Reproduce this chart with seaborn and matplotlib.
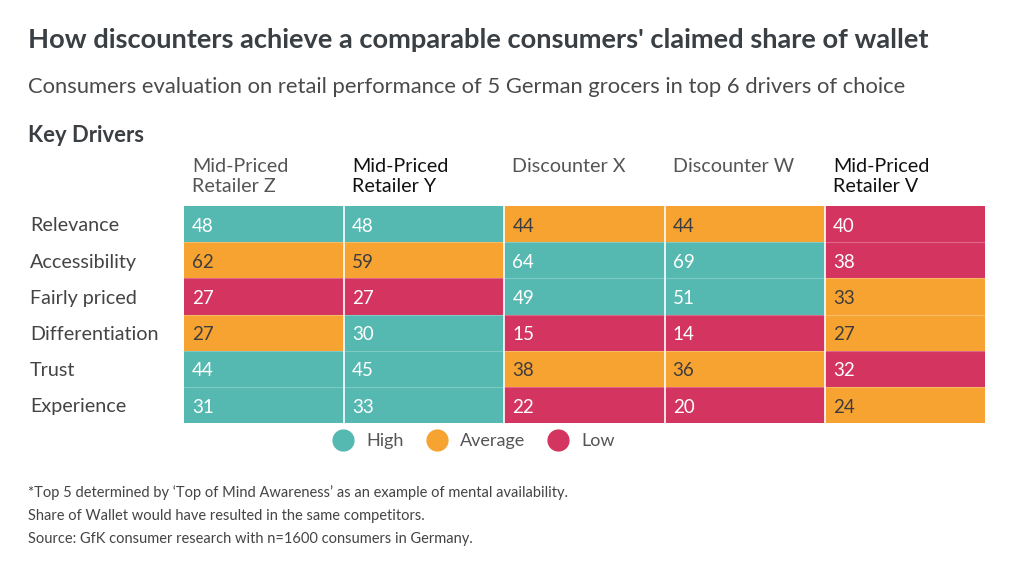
import matplotlib
matplotlib.use('Agg')
import matplotlib.pyplot as plt
import seaborn as sns
import numpy as np
import pandas as pd
from matplotlib.colors import ListedColormap
from matplotlib.lines import Line2D

sns.set_theme(style='white')
plt.rcParams['font.family'] = ['Lato', 'DejaVu Sans']

drivers = ['Relevance', 'Accessibility', 'Fairly priced', 'Differentiation', 'Trust', 'Experience']
retailers = ['Mid-Priced\nRetailer Z', 'Mid-Priced\nRetailer Y', 'Discounter X', 'Discounter W', 'Mid-Priced\nRetailer V']
scores = [
    [48, 48, 44, 44, 40],
    [62, 59, 64, 69, 38],
    [27, 27, 49, 51, 33],
    [27, 30, 15, 14, 27],
    [44, 45, 38, 36, 32],
    [31, 33, 22, 20, 24],
]
# 0 = High, 1 = Average, 2 = Low
levels = [
    [0, 0, 1, 1, 2],
    [1, 1, 0, 0, 2],
    [2, 2, 0, 0, 1],
    [1, 0, 2, 2, 1],
    [0, 0, 1, 1, 2],
    [0, 0, 2, 2, 1],
]
level_names = ['High', 'Average', 'Low']
header_dark = [False, True, False, False, True]

teal = '#55b9b1'
orange = '#f7a331'
red = '#d33460'
palette = [teal, orange, red]

df_lvl = pd.DataFrame(levels, index=drivers, columns=retailers)
df_val = pd.DataFrame(scores, index=drivers, columns=retailers)

fig = plt.figure(figsize=(10.22, 5.82), dpi=100)
ax = fig.add_axes([184 / 1022, 1 - 423 / 582, (985 - 184) / 1022, (423 - 206) / 582])

sns.heatmap(df_lvl, cmap=ListedColormap(palette), vmin=-0.5, vmax=2.5, cbar=False,
            linewidths=0, ax=ax)

for i in range(len(drivers)):
    for j in range(len(retailers)):
        c = '#3d3d3d' if levels[i][j] == 1 else 'white'
        ax.text(j + 0.05, i + 0.56, str(df_val.iloc[i, j]), ha='left', va='center',
                fontsize=13.5, color=c)

for j in range(1, len(retailers)):
    ax.axvline(j, color='white', lw=1.2)
for i in range(1, len(drivers)):
    ax.axhline(i, color='white', lw=0.8, alpha=0.25)

ax.set_xticks([])
ax.set_yticks([])
ax.set_xlabel('')
ax.set_ylabel('')

for i, d in enumerate(drivers):
    ax.text(-0.96, i + 0.55, d, ha='left', va='center', fontsize=14.2, color='#444444')

for j, r in enumerate(retailers):
    ax.text(j + 0.05, -1.33, r, ha='left', va='top', fontsize=14.2, linespacing=1.2,
            color='#111111' if header_dark[j] else '#555555')

fig.text(28 / 1022, 1 - 40 / 582, "How discounters achieve a comparable consumers' claimed share of wallet",
         fontsize=19.6, fontweight='bold', color='#3a3f44', va='center')
fig.text(28 / 1022, 1 - 87 / 582, 'Consumers evaluation on retail performance of 5 German grocers in top 6 drivers of choice',
         fontsize=15.8, color='#4a4a4a', va='center')
fig.text(28 / 1022, 1 - 135 / 582, 'Key Drivers', fontsize=15.8, fontweight='bold', color='#3a3f44', va='center')

handles = [Line2D([0], [0], marker='o', color='none', markerfacecolor=c, markeredgecolor=c,
                  markersize=15) for c in palette]
fig.legend(handles, level_names, loc='center', bbox_to_anchor=(470 / 1022, 1 - 441 / 582), ncol=3,
           frameon=False, fontsize=13, handletextpad=0.3, columnspacing=0.8, labelcolor='#555555')

notes = ["*Top 5 determined by \u2018Top of Mind Awareness\u2019 as an example of mental availability.",
         'Share of Wallet would have resulted in the same competitors.',
         'Source: GfK consumer research with n=1600 consumers in Germany.']
for k, n in enumerate(notes):
    fig.text(28 / 1022, 1 - (493 + 23 * k) / 582, n, fontsize=10.5, color='#444444', va='center')

fig.savefig('out.png', dpi=100)
